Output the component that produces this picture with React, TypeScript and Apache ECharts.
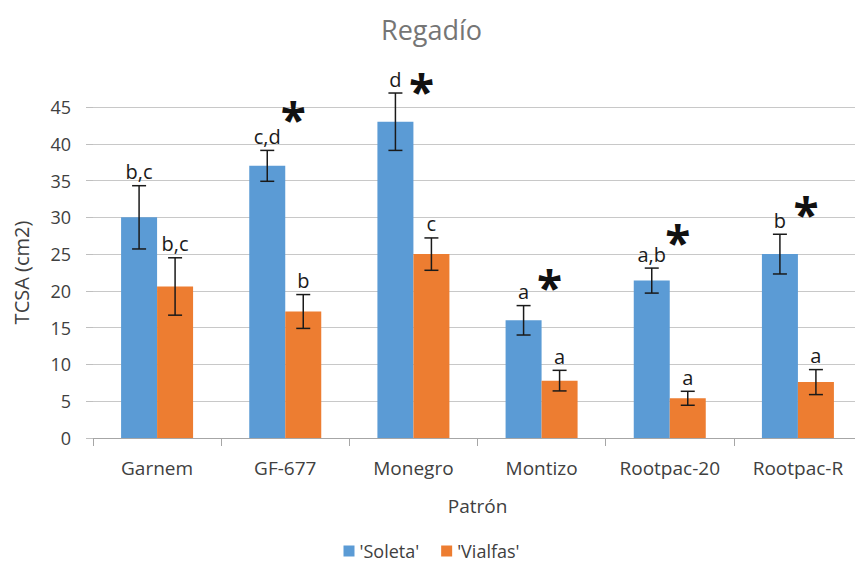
import React, { useEffect, useRef } from "react";
import * as echarts from "echarts";

const categories = ["Garnem", "GF-677", "Monegro", "Montizo", "Rootpac-20", "Rootpac-R"];
const soletaMean = [30.0, 37.0, 43.0, 16.0, 21.4, 25.0];
const soletaErr = [4.3, 2.1, 3.9, 2.0, 1.7, 2.7];
const soletaLetters = ["b,c", "c,d", "d", "a", "a,b", "b"];
const vialfasMean = [20.6, 17.2, 25.0, 7.8, 5.4, 7.6];
const vialfasErr = [3.9, 2.3, 2.2, 1.4, 0.95, 1.7];
const vialfasLetters = ["b,c", "b", "c", "a", "a", "a"];
const starCats = ["GF-677", "Monegro", "Montizo", "Rootpac-20", "Rootpac-R"];
const starY = [44.9, 48.7, 22.0, 28.1, 31.9];

const FONT = "'Open Sans', sans-serif";
const BAR_W = 36;
const BLUE = "#5B9BD5";
const ORANGE = "#ED7D31";
const TXT = "#404040";

function errSeries(means: number[], errs: number[], letters: string[], side: number) {
  return {
    type: "custom",
    z: 5,
    data: means.map((m, i) => [i, m, errs[i]]),
    renderItem: (params: any, api: any) => {
      const i = api.value(0);
      const m = api.value(1);
      const e = api.value(2);
      const top = api.coord([i, m + e]);
      const bot = api.coord([i, m - e]);
      const x = top[0] + (side * BAR_W) / 2;
      const cap = 7;
      const st = { stroke: "#1a1a1a", lineWidth: 1.5 };
      return {
        type: "group",
        children: [
          { type: "line", shape: { x1: x, y1: top[1], x2: x, y2: bot[1] }, style: st },
          { type: "line", shape: { x1: x - cap, y1: top[1], x2: x + cap, y2: top[1] }, style: st },
          { type: "line", shape: { x1: x - cap, y1: bot[1], x2: x + cap, y2: bot[1] }, style: st },
          {
            type: "text",
            x: x,
            y: top[1] - 4,
            style: {
              text: letters[params.dataIndex],
              fontFamily: FONT,
              fontSize: 20,
              fill: "#1a1a1a",
              align: "center",
              verticalAlign: "bottom",
            },
          },
        ],
      };
    },
  };
}

export default function App() {
  const ref = useRef<HTMLDivElement>(null);
  useEffect(() => {
    if (!ref.current) return;
    const chart = echarts.init(ref.current, undefined, { renderer: "svg" });
    chart.setOption({
      animation: false,
      backgroundColor: "#ffffff",
      title: {
        text: "Regadío",
        left: "center",
        top: 11,
        textStyle: { fontFamily: FONT, fontSize: 27, fontWeight: "normal", color: "#757575" },
      },
      legend: {
        data: ["'Soleta'", "'Vialfas'"],
        bottom: 8,
        left: "center",
        icon: "rect",
        itemWidth: 11,
        itemHeight: 11,
        itemGap: 22,
        textStyle: { fontFamily: FONT, fontSize: 18, color: TXT },
      },
      grid: { left: 93, right: 1, top: 107, bottom: 135 },
      xAxis: {
        type: "category",
        data: categories,
        name: "Patrón",
        nameLocation: "middle",
        nameGap: 58,
        nameTextStyle: { fontFamily: FONT, fontSize: 19, color: TXT },
        axisLine: { lineStyle: { color: "#a6a6a6", width: 1 } },
        axisTick: { show: true, interval: 0, length: 8, lineStyle: { color: "#a6a6a6" } },
        axisLabel: { interval: 0, fontFamily: FONT, fontSize: 19, color: TXT, margin: 20 },
      },
      yAxis: {
        type: "value",
        min: 0,
        max: 45,
        interval: 5,
        name: "TCSA (cm2)",
        nameLocation: "middle",
        nameGap: 62,
        nameTextStyle: { fontFamily: FONT, fontSize: 20, color: TXT },
        axisLine: { show: false },
        axisTick: { show: true, length: 7, lineStyle: { color: "#bfbfbf" } },
        splitLine: { lineStyle: { color: "#c8c8c8", width: 1 } },
        axisLabel: { fontFamily: FONT, fontSize: 18, color: TXT, margin: 22 },
      },
      series: [
        {
          name: "'Soleta'",
          type: "bar",
          data: soletaMean,
          barWidth: BAR_W,
          barGap: "0%",
          itemStyle: { color: BLUE },
        },
        {
          name: "'Vialfas'",
          type: "bar",
          data: vialfasMean,
          barWidth: BAR_W,
          barGap: "0%",
          itemStyle: { color: ORANGE },
        },
        errSeries(soletaMean, soletaErr, soletaLetters, -1),
        errSeries(vialfasMean, vialfasErr, vialfasLetters, 1),
        {
          type: "custom",
          z: 6,
          data: starCats.map((c, i) => [categories.indexOf(c), starY[i]]),
          renderItem: (params: any, api: any) => {
            const p = api.coord([api.value(0), api.value(1)]);
            return {
              type: "text",
              x: p[0] + 8,
              y: p[1] + 11,
              style: {
                text: "*",
                fontFamily: FONT,
                fontSize: 46,
                fontWeight: "bold",
                fill: "#111111",
                align: "center",
                verticalAlign: "middle",
              },
            };
          },
        },
      ],
    });
    return () => chart.dispose();
  }, []);
  return <div ref={ref} style={{ width: 863, height: 573, marginLeft: -8, marginTop: -8 }} />;
}
